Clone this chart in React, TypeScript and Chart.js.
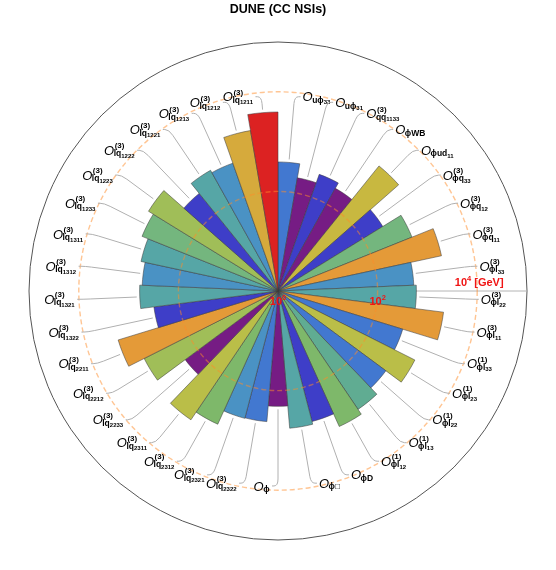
import React, { useEffect, useRef } from 'react';
import { Chart, registerables } from 'chart.js';

Chart.register(...registerables);

const chartTitle = 'DUNE (CC NSIs)';

// Operator label parts (clockwise from 12 o'clock)
const opSup = [
  '', '', '(3)', '', '', '(3)', '(3)', '(3)', '(3)', '(3)', '(3)', '(1)', '(1)', '(1)', '(1)', '(1)', '', '', '',
  '(3)', '(3)', '(3)', '(3)', '(3)', '(3)', '(3)', '(3)', '(3)', '(3)', '(3)', '(3)', '(3)', '(3)', '(3)', '(3)', '(3)', '(3)',
];
const opSub = [
  'uϕ', 'uϕ', 'qq', 'ϕWB', 'ϕud', 'ϕq', 'ϕq', 'ϕq', 'ϕl', 'ϕl', 'ϕl', 'ϕl', 'ϕl', 'ϕl', 'ϕl', 'ϕl', 'ϕD', 'ϕ□', 'ϕ',
  'lq', 'lq', 'lq', 'lq', 'lq', 'lq', 'lq', 'lq', 'lq', 'lq', 'lq', 'lq', 'lq', 'lq', 'lq', 'lq', 'lq', 'lq',
];
const opIdx = [
  '33', '31', '1133', '', '11', '33', '12', '11', '33', '22', '11', '33', '23', '22', '13', '12', '', '', '',
  '2322', '2321', '2312', '2311', '2233', '2212', '2211', '1322', '1321', '1312', '1311', '1233', '1223', '1222', '1221', '1213', '1212', '1211',
];

// Sensitivity scale in GeV
const scaleGeV = [
  390, 202, 305, 230, 1690, 296, 794, 2280, 536, 601, 2245, 417, 1197, 495, 740, 968, 511, 582, 207,
  429, 439, 863, 1326, 208, 1023, 2277, 325, 601, 536, 651, 875, 1133, 330, 598, 528, 1858, 3930,
];

const C_BLUE = 'rgb(66,120,208)';
const C_PURPLE = 'rgb(118,28,132)';
const C_INDIGO = 'rgb(62,62,200)';
const C_OLIVE = 'rgb(200,184,64)';
const C_GREEN = 'rgb(116,182,126)';
const C_ORANGE = 'rgb(228,154,56)';
const C_STEEL = 'rgb(74,146,196)';
const C_TEAL = 'rgb(86,166,166)';
const C_OLIVE2 = 'rgb(186,190,72)';
const C_TEALGREEN = 'rgb(96,172,146)';
const C_LGREEN = 'rgb(126,184,106)';
const C_YGREEN = 'rgb(160,190,88)';
const C_GOLD = 'rgb(214,170,60)';
const C_RED = 'rgb(220,34,34)';

const wedgeColors = [
  C_BLUE, C_PURPLE, C_INDIGO, C_PURPLE, C_OLIVE, C_INDIGO, C_GREEN, C_ORANGE, C_STEEL, C_TEAL, C_ORANGE,
  C_BLUE, C_OLIVE2, C_BLUE, C_TEALGREEN, C_LGREEN, C_INDIGO, C_TEAL, C_PURPLE,
  C_BLUE, C_STEEL, C_LGREEN, C_OLIVE2, C_PURPLE, C_YGREEN, C_ORANGE, C_INDIGO, C_TEAL, C_STEEL, C_TEAL,
  C_GREEN, C_YGREEN, C_INDIGO, C_TEAL, C_STEEL, C_GOLD, C_RED,
];

const radialMaxExp = 5;
const ringExps = [2, 4];
const tickExps = [0, 2, 4];
const tickUnit = ' [GeV]';

const FONT = '"Liberation Sans", Arial, sans-serif';

function drawOpLabel(ctx: CanvasRenderingContext2D, x: number, y: number, alignLeft: boolean, sup: string, sub: string, idx: string) {
  ctx.font = `italic 13px ${FONT}`;
  const wO = ctx.measureText('O').width;
  ctx.font = `bold 8px ${FONT}`;
  const wSup = sup ? ctx.measureText(sup).width : 0;
  ctx.font = `bold 8.5px ${FONT}`;
  const wSub = ctx.measureText(sub).width;
  ctx.font = `bold 6px ${FONT}`;
  const wIdx = idx ? ctx.measureText(idx).width : 0;
  const total = wO + Math.max(wSup + 1, wSub + wIdx);
  const x0 = alignLeft ? x : x - total;
  ctx.fillStyle = '#000';
  ctx.textAlign = 'left';
  ctx.textBaseline = 'alphabetic';
  ctx.font = `italic 13px ${FONT}`;
  ctx.fillText('O', x0, y + 4.6);
  if (sup) {
    ctx.font = `bold 8px ${FONT}`;
    ctx.fillText(sup, x0 + wO + 0.5, y - 1.8);
  }
  ctx.font = `bold 8.5px ${FONT}`;
  ctx.fillText(sub, x0 + wO - 0.5, y + 6.2);
  if (idx) {
    ctx.font = `bold 6px ${FONT}`;
    ctx.fillText(idx, x0 + wO - 0.5 + wSub, y + 7.6);
  }
}

function drawPow(ctx: CanvasRenderingContext2D, cx: number, y: number, exp: number, suffix: string) {
  const base = '10';
  const e = String(exp);
  ctx.font = `bold 11px ${FONT}`;
  const wB = ctx.measureText(base).width;
  const wS = ctx.measureText(suffix).width;
  ctx.font = `bold 7.5px ${FONT}`;
  const wE = ctx.measureText(e).width;
  const total = wB + wE + wS;
  const x0 = cx - total / 2;
  ctx.fillStyle = '#f01414';
  ctx.textAlign = 'left';
  ctx.textBaseline = 'alphabetic';
  ctx.font = `bold 11px ${FONT}`;
  ctx.fillText(base, x0, y + 4);
  if (suffix) ctx.fillText(suffix, x0 + wB + wE, y + 4);
  ctx.font = `bold 7.5px ${FONT}`;
  ctx.fillText(e, x0 + wB, y - 1);
}

const decorPlugin = {
  id: 'decor',
  beforeDatasetsDraw(chart: any) {
    const ctx: CanvasRenderingContext2D = chart.ctx;
    const s = chart.scales.r;
    const cx = s.xCenter;
    const cy = s.yCenter;
    const R = s.getDistanceFromCenterForValue(radialMaxExp);
    ctx.save();
    ctx.strokeStyle = '#555';
    ctx.lineWidth = 1;
    ctx.beginPath();
    ctx.arc(cx, cy, R, 0, Math.PI * 2);
    ctx.stroke();
    ctx.strokeStyle = '#b4b4b4';
    ctx.beginPath();
    ctx.moveTo(cx, cy);
    ctx.lineTo(cx + R, cy);
    ctx.stroke();
    ctx.restore();
  },
  afterDatasetsDraw(chart: any) {
    const ctx: CanvasRenderingContext2D = chart.ctx;
    const s = chart.scales.r;
    const cx = s.xCenter;
    const cy = s.yCenter;
    const meta = chart.getDatasetMeta(0);
    ctx.save();
    // dashed reference rings
    ctx.setLineDash([5, 3]);
    ctx.lineWidth = 1.4;
    ctx.strokeStyle = 'rgba(255,140,40,0.5)';
    ringExps.forEach((e) => {
      ctx.beginPath();
      ctx.arc(cx, cy, s.getDistanceFromCenterForValue(e), 0, Math.PI * 2);
      ctx.stroke();
    });
    ctx.setLineDash([]);
    // leader lines + labels
    const rAnchor = s.drawingArea * 0.783;
    meta.data.forEach((arc: any, i: number) => {
      const p = arc.getProps(['startAngle', 'endAngle', 'outerRadius'], true);
      const mid = (p.startAngle + p.endAngle) / 2;
      const c = Math.cos(mid);
      const sn = Math.sin(mid);
      const right = c > 0.01;
      const dir = right ? 1 : -1;
      const r0 = p.outerRadius + 3;
      const ax = cx + rAnchor * c;
      const ay = cy + rAnchor * sn;
      const bx = cx + (rAnchor - 7) * c;
      const by = cy + (rAnchor - 7) * sn;
      ctx.strokeStyle = '#b0b0b0';
      ctx.lineWidth = 1;
      ctx.beginPath();
      ctx.moveTo(cx + r0 * c, cy + r0 * sn);
      ctx.lineTo(bx, by);
      ctx.quadraticCurveTo(ax, ay, ax + dir * 4, ay);
      ctx.lineTo(ax + dir * 6, ay);
      ctx.stroke();
      drawOpLabel(ctx, ax + dir * 8, ay, right, opSup[i], opSub[i], opIdx[i]);
    });
    // radial tick labels
    tickExps.forEach((e) => {
      const x = cx + s.getDistanceFromCenterForValue(e);
      if (e === tickExps[tickExps.length - 1]) {
        drawPow(ctx, x + 2, cy - 9, e, tickUnit);
      } else {
        drawPow(ctx, x, cy + 10, e, '');
      }
    });
    // title
    ctx.fillStyle = '#000';
    ctx.font = `bold 12.5px ${FONT}`;
    ctx.textAlign = 'center';
    ctx.textBaseline = 'alphabetic';
    ctx.fillText(chartTitle, cx, 13);
    ctx.restore();
  },
};

export default function App() {
  const ref = useRef<HTMLCanvasElement | null>(null);
  useEffect(() => {
    if (!ref.current) return;
    const names = opSub.map((s, i) => `O${opSup[i]}_${s}${opIdx[i]}`);
    const chart = new Chart(ref.current, {
      type: 'polarArea',
      data: {
        labels: names,
        datasets: [
          {
            data: scaleGeV.map((v) => Math.log10(v)),
            backgroundColor: wedgeColors,
            borderColor: 'rgba(60,60,60,0.75)',
            borderWidth: 0.7,
          },
        ],
      },
      options: {
        responsive: false,
        animation: false,
        startAngle: 0,
        layout: { padding: { left: 29, right: 29, top: 42, bottom: 30 } },
        plugins: {
          legend: { display: false },
          tooltip: { enabled: false },
          title: { display: false },
        },
        scales: {
          r: {
            min: 0,
            max: radialMaxExp,
            ticks: { display: false },
            grid: { display: false },
            angleLines: { display: false },
            pointLabels: { display: false },
          },
        },
      } as any,
      plugins: [decorPlugin],
    });
    return () => chart.destroy();
  }, []);
  return (
    <div style={{ position: 'absolute', left: 0, top: 0, width: 556, height: 570, background: '#fff' }}>
      <canvas ref={ref} width={556} height={570} style={{ width: 556, height: 570, display: 'block' }} />
    </div>
  );
}
